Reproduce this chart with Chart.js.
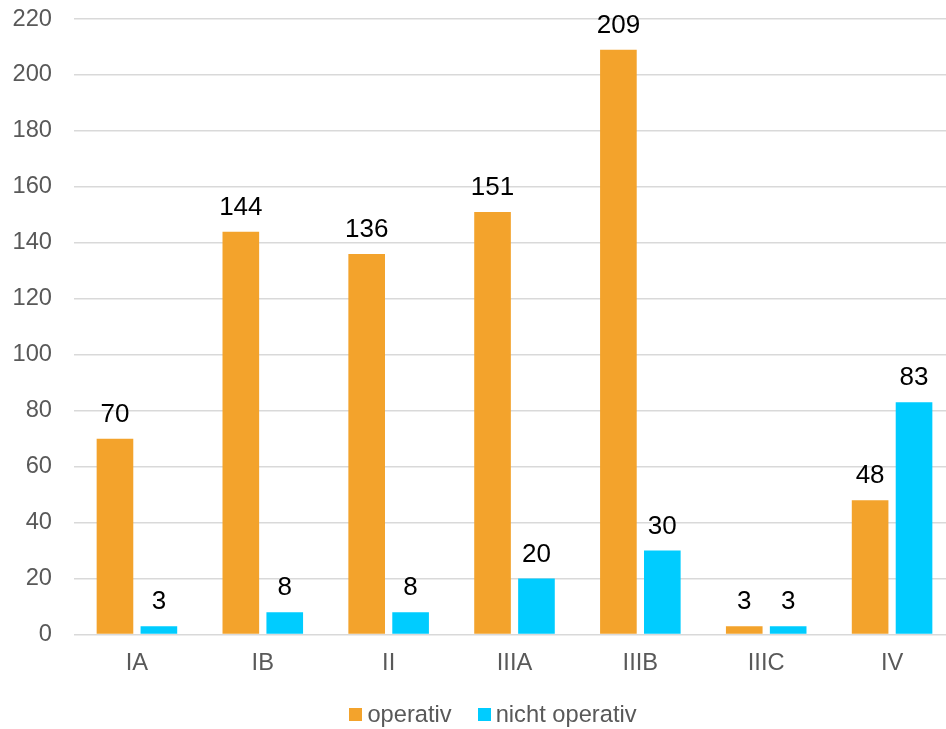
<!DOCTYPE html>
<html>
<head>
<meta charset="utf-8">
<script src="https://cdn.jsdelivr.net/npm/chart.js@4"></script>
<style>
  html, body { margin: 0; padding: 0; overflow: hidden; background: #fff; width: 946px; height: 729px; }
  #wrap { position: relative; width: 986px; height: 729px; }
  #legend {
    position: absolute; left: 0; top: 700px; width: 986px;
    display: flex; justify-content: center;
    font: 23.7px 'Liberation Sans', Arial, sans-serif; color: #595959; line-height: 28px;
  }
  .item { display: flex; align-items: center; margin: 0 13px; }
  .sw { width: 13px; height: 13px; margin-right: 5px; }
</style>
</head>
<body>
<div id="wrap">
  <canvas id="chart" width="986" height="729"></canvas>
  <div id="legend"></div>
</div>
<script>
// Stadien und Fallzahlen
const categories = ['IA', 'IB', 'II', 'IIIA', 'IIIB', 'IIIC', 'IV'];
const operativ = [70, 144, 136, 151, 209, 3, 48];
const nichtOperativ = [3, 8, 8, 20, 30, 3, 83];
const seriesNames = ['operativ', 'nicht operativ'];
const seriesColors = ['#F3A32C', '#00CCFF'];

const FONT = "'Liberation Sans', Arial, sans-serif";
Chart.defaults.font.family = FONT;

// Writes each bar's value above it
const valueLabels = {
  id: 'valueLabels',
  afterDatasetsDraw(chart) {
    const ctx = chart.ctx;
    ctx.save();
    ctx.font = '26px ' + FONT;
    ctx.fillStyle = '#000';
    ctx.textAlign = 'center';
    ctx.textBaseline = 'alphabetic';
    chart.data.datasets.forEach((ds, i) => {
      chart.getDatasetMeta(i).data.forEach((bar, j) => {
        ctx.fillText(String(ds.data[j]), bar.x, bar.y - 17);
      });
    });
    ctx.restore();
  }
};

const chart = new Chart(document.getElementById('chart'), {
  type: 'bar',
  data: {
    labels: categories,
    datasets: [
      { label: seriesNames[0], data: operativ, backgroundColor: seriesColors[0] },
      { label: seriesNames[1], data: nichtOperativ, backgroundColor: seriesColors[1] }
    ]
  },
  options: {
    responsive: false,
    animation: false,
    datasets: { bar: { categoryPercentage: 0.698, barPercentage: 0.834 } },
    layout: { padding: { left: 12, right: 31, top: 19, bottom: 44 } },
    plugins: {
      legend: { display: false },
      tooltip: { enabled: false }
    },
    scales: {
      x: {
        grid: { display: false },
        border: { display: false },
        ticks: { color: '#595959', font: { size: 23.7 }, padding: 7 }
      },
      y: {
        min: 0, max: 220,
        afterFit(scale) {
          scale.width = 62;
          scale.paddingTop = 0;
          scale.paddingBottom = 0;
        },
        ticks: { stepSize: 20, color: '#595959', font: { size: 23.7 }, padding: 22 },
        grid: { color: '#d9d9d9', lineWidth: 1.5, drawTicks: false },
        border: { display: false }
      }
    }
  },
  plugins: [valueLabels]
});

// Legend built from the datasets
const legend = document.getElementById('legend');
chart.data.datasets.forEach(ds => {
  const item = document.createElement('div');
  item.className = 'item';
  const sw = document.createElement('span');
  sw.className = 'sw';
  sw.style.background = ds.backgroundColor;
  const txt = document.createElement('span');
  txt.textContent = ds.label;
  item.appendChild(sw);
  item.appendChild(txt);
  legend.appendChild(item);
});
</script>
</body>
</html>
